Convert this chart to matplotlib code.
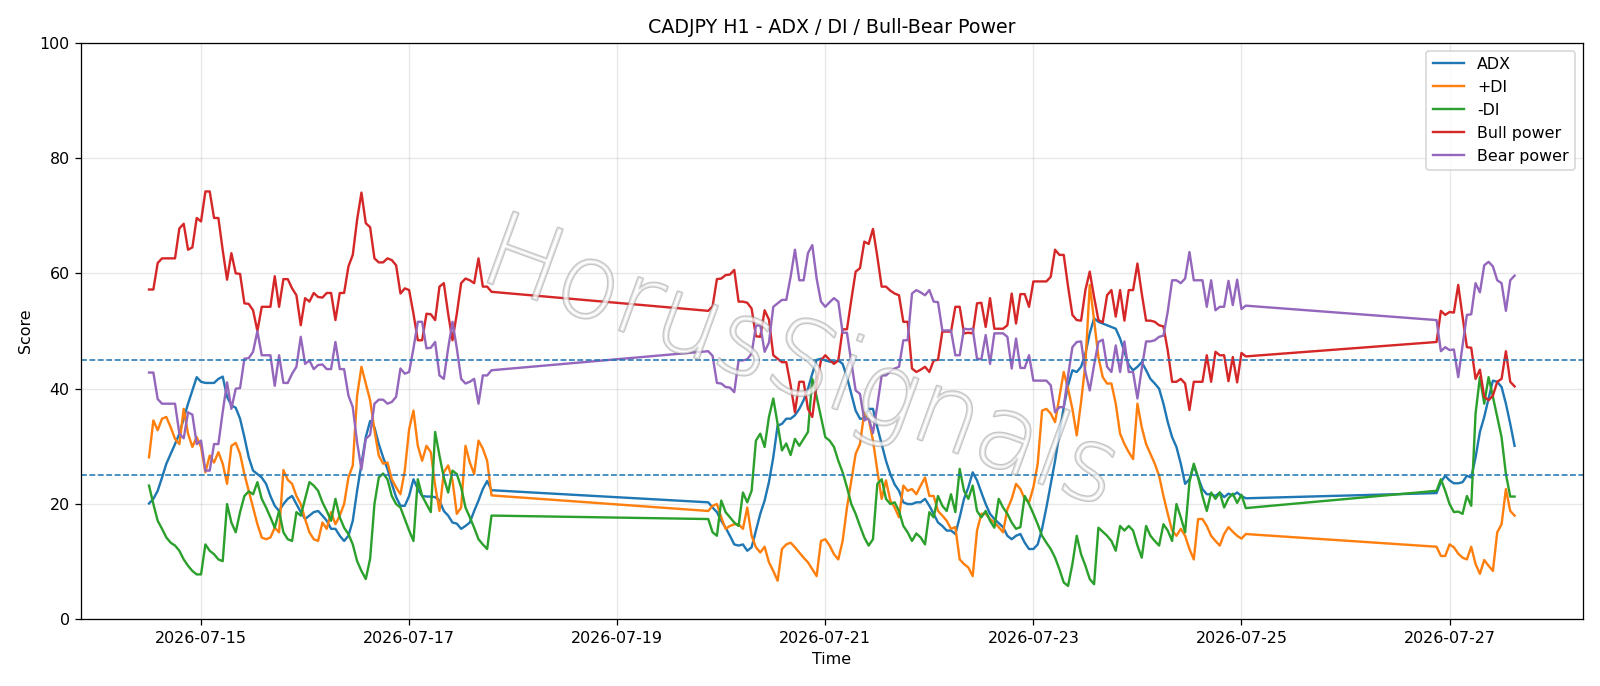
import numpy as np
import pandas as pd
import matplotlib
matplotlib.use('Agg')
from matplotlib import pyplot as plt
import matplotlib.dates as mdates
import matplotlib.patheffects as pe

# hourly bars, market closed over the weekends
seg_starts = ['2026-07-14 12:00', '2026-07-19 21:00', '2026-07-26 21:00']
seg_lengths = [80, 125, 19]

adx = [20.1, 20.9, 22.3, 24.6, 27.0, 28.7, 30.4, 32.2, 34.8, 37.4, 39.7, 42.0, 41.2, 41.0, 41.0, 41.0,
       41.7, 42.1, 38.6, 37.1, 36.7, 34.8, 31.6, 28.1, 25.8, 25.2, 24.6, 23.5, 21.4, 19.7, 18.8, 20.0,
       20.9, 21.4, 20.0, 18.6, 17.4, 18.0, 18.6, 18.8, 18.0, 17.1, 15.7, 15.7, 14.5, 13.6, 14.5, 17.1,
       22.3, 27.0, 31.6, 34.4, 33.3, 30.4, 28.1, 26.1, 23.5, 21.2, 19.7, 19.7, 21.4, 24.3, 22.6, 21.4,
       21.3, 21.3, 21.2, 20.6, 18.8, 18.0, 16.8, 16.6, 15.7, 16.2, 16.8, 18.8, 20.6, 22.6, 24.0, 22.4,
       20.3, 19.4, 18.6, 17.1, 15.9, 14.5, 13.0, 12.8, 13.0, 11.9, 12.5, 15.4, 18.3, 20.6, 23.8, 28.1,
       33.6, 33.9, 34.8, 34.8, 35.4, 36.5, 38.0, 40.0, 42.6, 45.0, 45.2, 44.9, 44.7, 44.6, 44.9, 44.3,
       42.0, 39.1, 36.2, 34.8, 34.8, 36.5, 36.5, 33.3, 30.4, 27.5, 25.2, 23.4, 22.3, 20.3, 20.0, 20.0,
       20.3, 20.3, 20.9, 19.7, 18.3, 16.8, 16.2, 15.4, 15.4, 14.8, 17.7, 20.9, 22.9, 25.5, 24.1, 22.0,
       20.0, 18.3, 17.4, 16.7, 16.0, 14.5, 13.9, 14.5, 14.8, 13.3, 12.2, 12.2, 13.0, 15.7, 19.4, 23.5,
       27.5, 32.2, 36.8, 40.6, 43.2, 42.9, 43.8, 46.1, 49.6, 52.2, 51.6, 51.3, 51.0, 50.7, 50.4, 48.7,
       46.4, 44.1, 43.2, 43.8, 44.6, 43.2, 41.7, 40.9, 40.0, 37.4, 34.2, 31.6, 29.9, 27.0, 23.5, 24.3,
       26.7, 24.6, 22.6, 21.7, 21.7, 21.4, 22.0, 21.2, 21.8, 21.5, 22.0, 21.4, 21.0,
       21.9, 23.8, 24.9, 24.1, 23.6, 23.6, 23.8, 24.9, 24.6, 28.1, 32.5, 35.1, 38.3, 41.4, 41.2, 40.3,
       37.4, 33.9, 30.1]

plus_di = [28.1, 34.5, 32.8, 34.8, 35.1, 33.3, 31.3, 30.4, 36.5, 32.2, 29.9, 31.6, 29.9, 25.5, 28.4, 27.2,
           29.0, 27.0, 23.5, 30.1, 30.6, 28.7, 25.2, 22.3, 19.4, 16.5, 14.2, 13.9, 14.2, 15.9, 15.1, 25.9,
           24.2, 23.5, 21.4, 20.0, 17.4, 15.1, 13.9, 13.6, 16.8, 15.7, 18.6, 16.5, 18.0, 20.0, 24.6, 26.7,
           38.8, 43.8, 40.9, 38.0, 32.8, 28.4, 27.0, 27.2, 24.3, 22.9, 21.7, 25.8, 33.0, 36.2, 30.1, 27.5,
           30.1, 29.0, 23.2, 18.8, 25.5, 26.7, 24.1, 18.3, 19.4, 30.1, 27.2, 25.2, 31.0, 29.6, 27.5, 21.5,
           18.8, 19.7, 20.0, 17.7, 15.7, 16.2, 16.5, 16.5, 15.7, 19.4, 14.5, 12.5, 11.6, 12.6, 9.9, 8.4,
           6.7, 12.2, 13.0, 13.3, 12.5, 11.6, 10.7, 9.9, 8.7, 7.5, 13.6, 13.9, 12.8, 11.3, 10.4, 13.6,
           19.4, 24.1, 28.7, 30.4, 35.9, 34.8, 31.0, 25.8, 20.9, 24.1, 20.6, 19.4, 17.7, 23.2, 22.3, 22.6,
           21.7, 23.2, 24.6, 21.4, 21.4, 18.8, 18.0, 17.1, 15.7, 16.0, 10.4, 9.6, 9.0, 7.5, 15.4, 18.3,
           18.3, 17.4, 16.8, 16.0, 15.1, 19.1, 20.9, 23.5, 22.6, 20.9, 20.3, 22.9, 27.0, 36.2, 36.5, 35.7,
           34.2, 38.6, 42.9, 40.0, 36.5, 31.9, 37.7, 44.3, 58.0, 51.9, 45.5, 42.0, 40.9, 40.9, 37.4, 32.2,
           30.4, 29.0, 27.8, 37.4, 33.3, 30.4, 28.7, 27.0, 24.9, 21.4, 18.3, 15.4, 14.5, 15.7, 14.5, 12.2,
           10.4, 17.4, 17.4, 16.2, 14.5, 13.6, 12.8, 14.8, 16.0, 15.2, 14.5, 14.0, 14.8,
           12.6, 11.0, 11.0, 13.0, 12.5, 11.4, 10.7, 10.4, 12.6, 9.6, 7.9, 10.3, 9.3, 8.4, 15.1, 16.5,
           22.6, 18.8, 18.0]

minus_di = [23.2, 20.0, 17.1, 15.7, 14.2, 13.3, 12.8, 11.9, 10.4, 9.3, 8.4, 7.8, 7.8, 13.0, 11.9, 11.3,
            10.4, 10.1, 20.0, 16.8, 15.1, 18.6, 21.4, 22.2, 21.7, 23.8, 20.9, 19.4, 17.7, 15.9, 18.8, 15.1,
            13.9, 13.6, 18.6, 18.0, 20.9, 23.8, 23.2, 22.3, 20.3, 18.8, 17.1, 20.9, 17.7, 15.9, 14.8, 13.0,
            10.1, 8.4, 7.0, 10.5, 20.0, 24.6, 25.3, 24.3, 21.4, 20.0, 19.4, 17.4, 15.4, 13.6, 24.3, 21.4,
            20.0, 18.6, 32.5, 28.4, 24.6, 22.0, 25.8, 25.2, 22.9, 19.4, 17.7, 15.9, 13.9, 13.0, 12.2, 18.0,
            17.4, 15.1, 14.5, 20.6, 18.6, 17.7, 16.8, 16.2, 22.0, 20.3, 22.3, 31.0, 32.2, 29.9, 35.1, 38.3,
            33.9, 29.3, 30.5, 28.5, 31.3, 30.1, 31.3, 32.5, 41.7, 38.6, 35.1, 31.6, 31.0, 29.9, 27.5, 25.5,
            22.9, 20.0, 18.3, 16.2, 14.2, 12.8, 13.9, 23.5, 24.3, 20.9, 20.0, 20.3, 18.8, 16.2, 15.1, 13.6,
            14.9, 14.2, 13.0, 18.6, 17.7, 21.4, 19.7, 18.8, 21.7, 18.6, 26.1, 22.3, 20.9, 23.2, 18.8, 17.7,
            18.8, 17.1, 15.9, 20.9, 19.4, 18.3, 16.8, 15.7, 16.0, 21.4, 20.0, 18.3, 16.5, 14.5, 13.3, 12.2,
            10.7, 8.7, 6.4, 5.8, 9.6, 14.5, 11.3, 9.3, 7.0, 6.1, 15.9, 15.2, 14.5, 13.6, 11.9, 16.2,
            15.4, 16.2, 15.4, 12.8, 10.7, 16.2, 14.5, 13.6, 12.8, 16.5, 15.4, 13.6, 20.0, 17.7, 15.1, 23.8,
            27.0, 24.6, 21.4, 18.8, 22.0, 20.9, 22.0, 19.4, 21.0, 21.8, 20.2, 21.6, 19.3,
            22.3, 24.3, 22.3, 20.0, 18.6, 18.7, 18.3, 21.4, 19.7, 35.7, 42.0, 37.4, 42.0, 38.6, 35.1, 31.6,
            25.2, 21.3, 21.3]

bull_power = [57.2, 57.2, 61.8, 62.6, 62.6, 62.6, 62.6, 67.8, 68.6, 64.1, 64.5, 69.6, 69.0, 74.2, 74.2, 69.6,
              69.6, 64.0, 58.9, 63.5, 60.0, 59.9, 54.8, 54.7, 53.6, 50.0, 54.2, 54.2, 54.2, 59.5, 54.2, 59.0,
              59.0, 57.4, 56.2, 51.0, 55.7, 55.1, 56.6, 55.9, 55.8, 56.6, 56.6, 51.9, 56.6, 56.6, 61.2, 63.2,
              69.3, 74.0, 68.7, 68.0, 62.6, 61.9, 61.9, 62.6, 62.3, 61.4, 56.5, 57.4, 57.1, 53.0, 48.4, 48.4,
              53.0, 52.9, 51.9, 57.7, 58.3, 53.0, 48.4, 53.0, 58.3, 59.1, 58.8, 58.3, 62.6, 57.7, 57.7, 56.8,
              53.5, 54.3, 59.0, 59.1, 59.7, 59.8, 60.6, 55.1, 55.1, 54.9, 53.9, 49.1, 49.0, 53.6, 52.0, 45.8,
              45.2, 44.6, 44.6, 40.6, 35.9, 41.2, 41.2, 36.5, 35.1, 40.9, 44.9, 45.8, 45.0, 44.3, 44.9, 50.3,
              50.3, 55.4, 60.3, 60.9, 65.5, 65.1, 67.7, 62.9, 57.7, 57.7, 57.0, 56.5, 56.2, 51.6, 51.6, 43.5,
              42.9, 43.3, 43.8, 42.9, 44.9, 45.0, 49.9, 49.9, 49.9, 54.2, 54.2, 49.6, 49.7, 49.6, 54.8, 54.9,
              50.7, 55.7, 50.4, 50.4, 50.4, 51.0, 56.5, 51.3, 56.4, 56.4, 54.2, 58.6, 58.6, 58.6, 58.6, 59.4,
              64.1, 63.2, 63.2, 57.7, 52.8, 51.9, 51.8, 57.1, 60.3, 55.9, 51.9, 51.5, 56.2, 57.1, 52.5, 57.1,
              51.8, 57.1, 57.1, 61.7, 56.5, 51.8, 51.8, 51.6, 51.0, 50.8, 46.6, 41.2, 41.2, 41.7, 40.9, 36.3,
              41.2, 41.2, 41.2, 45.8, 41.2, 46.4, 45.8, 45.8, 41.3, 45.5, 41.1, 46.2, 45.6,
              48.1, 53.5, 52.8, 53.3, 53.2, 58.0, 52.5, 47.2, 47.1, 41.7, 43.3, 38.6, 38.0, 38.8, 41.2, 41.7,
              46.5, 41.2, 40.4]

bear_power = [42.8, 42.8, 38.2, 37.4, 37.4, 37.4, 37.4, 32.2, 31.4, 35.9, 35.5, 30.4, 31.0, 25.8, 25.8, 30.4,
              30.4, 36.0, 41.1, 36.5, 40.0, 40.1, 45.2, 45.3, 46.4, 50.0, 45.8, 45.8, 45.8, 40.5, 45.8, 41.0,
              41.0, 42.6, 43.8, 49.0, 44.3, 44.9, 43.4, 44.1, 44.2, 43.4, 43.4, 48.1, 43.4, 43.4, 38.8, 36.8,
              30.7, 26.0, 31.3, 32.0, 37.4, 38.1, 38.1, 37.4, 37.7, 38.6, 43.5, 42.6, 42.9, 47.0, 51.6, 51.6,
              47.0, 47.1, 48.1, 42.3, 41.7, 47.0, 51.6, 47.0, 41.7, 40.9, 41.2, 41.7, 37.4, 42.3, 42.3, 43.2,
              46.5, 45.7, 41.0, 40.9, 40.3, 40.2, 39.4, 44.9, 44.9, 45.1, 46.1, 50.9, 51.0, 46.4, 48.0, 54.2,
              54.8, 55.4, 55.4, 59.4, 64.1, 58.8, 58.8, 63.5, 64.9, 59.1, 55.1, 54.2, 55.0, 55.7, 55.1, 49.7,
              49.7, 44.6, 39.7, 39.1, 34.5, 34.9, 32.3, 37.1, 42.3, 42.3, 43.0, 43.5, 43.8, 48.4, 48.4, 56.5,
              57.1, 56.7, 56.2, 57.1, 55.1, 55.0, 50.1, 50.1, 50.1, 45.8, 45.8, 50.4, 50.3, 50.4, 45.2, 45.1,
              49.3, 44.3, 49.6, 49.6, 49.6, 49.0, 43.5, 48.7, 43.6, 43.6, 45.8, 41.4, 41.4, 41.4, 41.4, 40.6,
              35.9, 36.8, 36.8, 42.3, 47.2, 48.1, 48.2, 42.9, 39.7, 44.1, 48.1, 48.5, 43.8, 42.9, 47.5, 42.9,
              48.2, 42.9, 42.9, 38.3, 43.5, 48.2, 48.2, 48.4, 49.0, 49.2, 53.4, 58.8, 58.8, 58.3, 59.1, 63.7,
              58.8, 58.8, 58.8, 54.2, 58.8, 53.6, 54.2, 54.2, 58.7, 54.5, 58.9, 53.8, 54.4,
              51.9, 46.5, 47.2, 46.7, 46.8, 42.0, 47.5, 52.8, 52.9, 58.3, 56.7, 61.4, 62.0, 61.2, 58.8, 58.3,
              53.5, 58.8, 59.6]

times = pd.DatetimeIndex([])
for start, n in zip(seg_starts, seg_lengths):
    times = times.append(pd.date_range(start, periods=n, freq='h'))

fig, ax = plt.subplots(figsize=(14, 6.0025))

ax.plot(times, adx, label='ADX', lw=1.5)
ax.plot(times, plus_di, label='+DI', lw=1.5)
ax.plot(times, minus_di, label='-DI', lw=1.5)
ax.plot(times, bull_power, label='Bull power', lw=1.5)
ax.plot(times, bear_power, label='Bear power', lw=1.5)

ax.axhline(45, ls='--', lw=1, color='tab:blue')
ax.axhline(25, ls='--', lw=1, color='tab:blue')

ax.set_ylim(0, 100)
ax.xaxis.set_major_locator(mdates.DayLocator(bymonthday=range(1, 32, 2)))
ax.xaxis.set_major_formatter(mdates.DateFormatter('%Y-%m-%d'))
ax.grid(True, alpha=0.3)

ax.set_title('CADJPY H1 - ADX / DI / Bull-Bear Power')
ax.set_xlabel('Time')
ax.set_ylabel('Score')
ax.legend(loc='upper right')

# watermark
fig.text(0.5, 0.467, 'HorusSignals', fontsize=65, fontweight='light',
         color='white', alpha=0.5, rotation=-20, ha='center', va='center',
         path_effects=[pe.withStroke(linewidth=1.5, foreground='#8c8c8c')])

fig.tight_layout()
fig.savefig('out.png', dpi=1600 / 14)
